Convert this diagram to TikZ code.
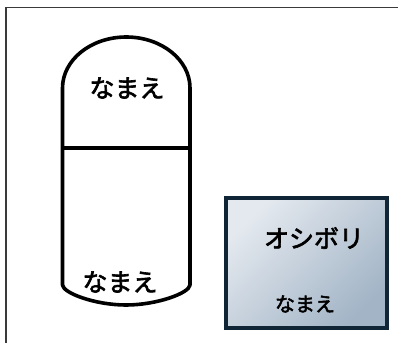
\documentclass[tikz,border=0pt]{standalone}
\usepackage{fontspec}
\newfontfamily\jpfont[RawFeature={embolden=2.5}]{Noto Sans CJK JP}
\definecolor{framecol}{HTML}{3A3A3A}
\definecolor{boxedge}{HTML}{102636}
\definecolor{boxlight}{HTML}{E4E9EF}
\definecolor{boxdark}{HTML}{A2B4C6}
\tikzset{
  outline/.style={line width=3.6pt, line join=round},
  jptext/.style={font=\jpfont\fontsize{#1}{#1}\selectfont, inner sep=0pt, text=black},
}
\begin{document}
\begin{tikzpicture}[x=1pt,y=-1pt]
\useasboundingbox (0,0) rectangle (398,343);
% frame
\draw[framecol, line width=1.6pt] (6,343) -- (6,7.5) -- (398,7.5);
% capsule
\draw[outline] (62.5,148) -- (62.5,88) arc[start angle=180, end angle=360, x radius=63.75, y radius=51] -- (190,150);
\draw[outline] (62.5,148) -- (190,148);
\draw[outline] (62.5,148) -- (62.5,285) .. controls (63,293) and (95,305) .. (126,305) .. controls (157,305) and (189.5,293) .. (190,285) -- (190,148);
\node[jptext=25] (topname) at (127,88) {なまえ};
\node[jptext=25] (botname) at (120,282) {なまえ};
% box
\shade[top color=boxlight, bottom color=boxdark, shading angle=45] (226,198) rectangle (387,328);
\draw[boxedge, line width=3.5pt] (226,198) rectangle (387,328);
\node[jptext=25] (title) at (314,238) {オシボリ};
\node[jptext=20] (sub) at (305,304) {なまえ};
\end{tikzpicture}
\end{document}
